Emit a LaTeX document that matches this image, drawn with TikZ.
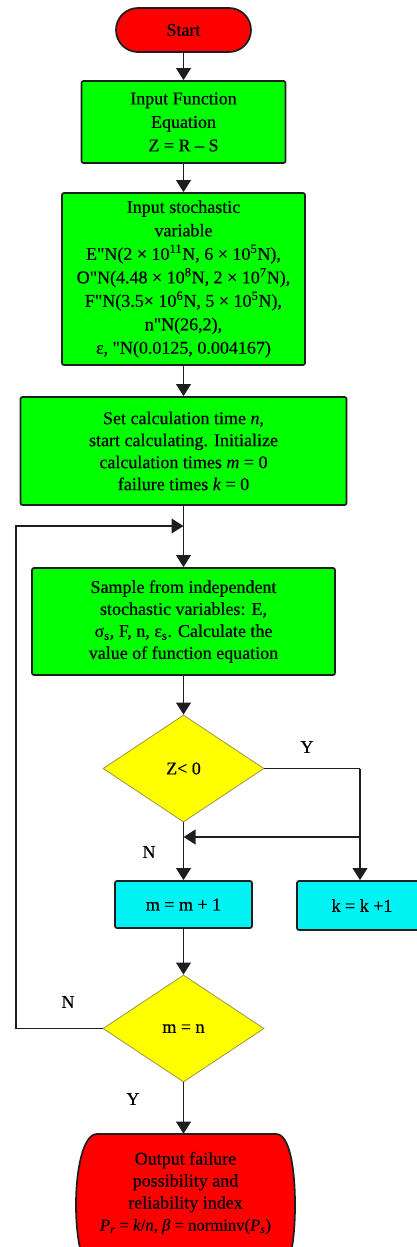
\documentclass[tikz,border=0pt]{standalone}
\usepackage{fontspec}
\setmainfont{Liberation Serif}[Ligatures=TeXOff,FakeBold=0.6]
\usetikzlibrary{shapes.geometric,arrows.meta}
\definecolor{cgreen}{RGB}{0,255,0}
\definecolor{cred}{RGB}{255,0,0}
\definecolor{ccyan}{RGB}{0,242,242}
\definecolor{cyellow}{RGB}{255,255,0}
\definecolor{cline}{RGB}{30,30,30}
\begin{document}
\begin{tikzpicture}[x=0.75pt,y=-0.75pt,
  every node/.style={font=\fontsize{13.5}{17.6}\selectfont},
  tight/.style={font=\fontsize{13.5}{16.5}\selectfont},
  box/.style={draw=cline,line width=1.3pt,rounded corners=1.5pt,align=center,inner sep=0pt},
  proc/.style={box,fill=cgreen},
  term/.style={box,fill=cred,rounded corners=16.5pt},
  inc/.style={box,fill=ccyan},
  dec/.style={diamond,draw=yellow!55!black,line width=0.6pt,fill=cyellow,aspect=1.5,inner sep=0pt,minimum width=120.75pt,minimum height=80.25pt},
  arr/.style={line width=1.4pt,draw=cline,-{Triangle[width=11pt,length=9pt]}},
  ln/.style={line width=1.4pt,draw=cline},
  lbl/.style={inner sep=0pt}]
\useasboundingbox (0,0) rectangle (417,1247);
\clip (0,0) rectangle (417,1247);
\node[term,minimum width=101.25pt,minimum height=33pt] (start) at (183.5,30) {Start};
\node[proc,minimum width=153pt,minimum height=61.5pt] (in1) at (183.5,122) {Input Function\\Equation\\Z = R – S};
\node[proc,minimum width=182.25pt,minimum height=129pt] (in2) at (183.5,279) {Input stochastic\\variable\\E"N(2 × 10\textsuperscript{11}N, 6 × 10\textsuperscript{5}N),\\O"N(4.48 × 10\textsuperscript{8}N, 2 × 10\textsuperscript{7}N),\\F"N(3.5× 10\textsuperscript{6}N, 5 × 10\textsuperscript{5}N),\\n"N(26,2),\\ε, "N(0.0125, 0.004167)};
\node[proc,tight,minimum width=244.5pt,minimum height=81pt] (init) at (183.5,451) {Set calculation time \textit{n},\\start calculating. Initialize\\calculation times \textit{m} = 0\\failure times \textit{k} = 0};
\coordinate (j) at (183.5,526);
\node[proc,tight,minimum width=227.25pt,minimum height=80.25pt] (samp) at (183.5,621.5) {Sample from independent\\stochastic variables: E,\\σ\textsubscript{s}, F, n, ε\textsubscript{s}. Calculate the\\value of function equation};
\node[dec] (d1) at (183.5,768.5) {Z< 0};
\coordinate (c1) at (360,768.5);
\coordinate (c2) at (360,837);
\coordinate (b1) at (183.5,837);
\node[inc,minimum width=102.75pt,minimum height=35.25pt] (m1) at (183.5,904.5) {m = m + 1};
\node[inc,minimum width=97.5pt,minimum height=36.75pt] (k1) at (362,905.5) {k = k +1};
\node[dec] (d2) at (183.5,1028.5) {m = n};
\coordinate (c3) at (16,1028.5);
\coordinate (c4) at (16,526);
\draw[draw=cline,line width=1.3pt,fill=cred] (97,1134) -- (276,1134) .. controls (290,1134) and (295,1170) .. (295,1205) .. controls (295,1240) and (290,1276) .. (276,1276) -- (97,1276) .. controls (83,1276) and (76,1240) .. (76,1205) .. controls (76,1170) and (83,1134) .. (97,1134);
\node[align=center,tight,inner sep=0pt,minimum height=88.5pt] (out) at (185.5,1193) {Output failure\\possibility and\\reliability index\\{\fontsize{12.5}{16.5}\selectfont\textit{P}\textsubscript{\textit{r}} = \textit{k}/\textit{n}, \textit{β} = norminv(\textit{P}\textsubscript{\textit{s}})}};
\node[lbl] (ly1) at (307,747) {Y};
\node[lbl] (ln1) at (149,852) {N};
\node[lbl] (ln2) at (68,1002) {N};
\node[lbl] (ly2) at (133,1099) {Y};
\draw[arr] (start) -- (in1);
\draw[arr] (in1) -- (in2);
\draw[arr] (in2) -- (init);
\draw[arr] (init) -- (samp);
\draw[arr] (samp) -- (d1);
\draw[arr] (d1) -- (m1);
\draw[ln] (d1.east) -- (c1);
\draw[arr] (c1) -- (c1 |- k1.north);
\draw[arr] (c2) -- (b1);
\draw[arr] (m1) -- (d2);
\draw[arr] (d2.west) -- (c3) -- (c4) -- (j);
\draw[arr] (d2.south) -- (d2.south |- out.north);
\end{tikzpicture}
\end{document}
